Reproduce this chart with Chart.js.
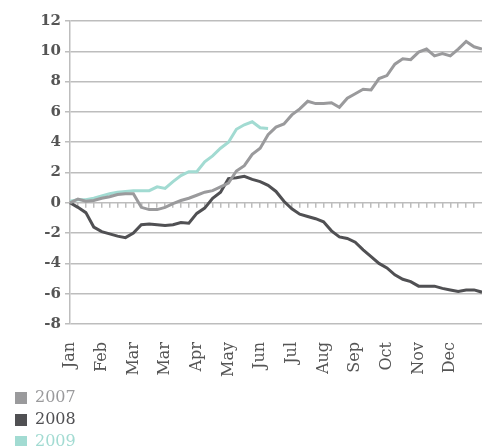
<!DOCTYPE html>
<html><head><meta charset="utf-8">
<script src="https://cdn.jsdelivr.net/npm/chart.js@4/dist/chart.umd.min.js"></script>
<style>html,body{margin:0;padding:0;background:#fff;}</style>
</head><body>
<canvas id="c" width="482" height="446"></canvas>
<script>
const weeks = [1,2,3,4,5,6,7,8,9,10,11,12,13,14,15,16,17,18,19,20,21,22,23,24,25,26,27,28,29,30,31,32,33,34,35,36,37,38,39,40,41,42,43,44,45,46,47,48,49,50,51,52,53];
const monthTicks = ["Jan","Feb","Mar","Mar","Apr","May","Jun","Jul","Aug","Sep","Oct","Nov","Dec"];
const seriesNames = ["2007","2008","2009"];
const values2007 = [0,0.25,0.1,0.15,0.3,0.4,0.55,0.6,0.6,-0.3,-0.45,-0.45,-0.3,-0.05,0.15,0.3,0.5,0.7,0.8,1.05,1.3,2.1,2.45,3.2,3.6,4.5,5.0,5.2,5.8,6.2,6.7,6.55,6.55,6.6,6.3,6.9,7.2,7.5,7.45,8.2,8.4,9.15,9.5,9.45,9.95,10.15,9.7,9.85,9.7,10.15,10.65,10.3,10.15];
const values2008 = [0,-0.3,-0.65,-1.6,-1.9,-2.05,-2.2,-2.3,-2.0,-1.45,-1.4,-1.45,-1.5,-1.45,-1.3,-1.35,-0.7,-0.35,0.3,0.7,1.6,1.65,1.75,1.55,1.4,1.15,0.75,0.1,-0.4,-0.75,-0.9,-1.05,-1.25,-1.85,-2.25,-2.35,-2.6,-3.1,-3.55,-4.0,-4.3,-4.75,-5.05,-5.2,-5.5,-5.5,-5.5,-5.65,-5.75,-5.85,-5.75,-5.75,-5.9];
const values2009 = [0.1,0.2,0.2,0.3,0.45,0.6,0.7,0.75,0.8,0.8,0.8,1.05,0.95,1.4,1.8,2.05,2.05,2.7,3.1,3.6,4.0,4.85,5.15,5.35,4.95,4.9];
const colors = ["#9a9a9c","#505053","#a2dbd2"];

const FONT = "'DejaVu Serif', serif";
const PAD = " ".repeat(70);
const gridColor = "#bdbdbd";
const ZERO_TICK = 5;

new Chart(document.getElementById('c'), {
  type: 'line',
  data: {
    labels: weeks,
    datasets: [values2007, values2008, values2009].map((d, i) => ({
      label: seriesNames[i], data: d, borderColor: colors[i], backgroundColor: colors[i],
      borderWidth: 3, pointRadius: 0, tension: 0, fill: false
    }))
  },
  options: {
    responsive: false, animation: false,
    layout: { padding: { left: 9, right: 0, top: 21, bottom: -14 } },
    plugins: {
      tooltip: { enabled: false },
      legend: {
        position: 'bottom', align: 'start',
        labels: {
          boxWidth: 12, boxHeight: 12, padding: 6, font: { family: FONT, size: 16 },
          generateLabels(chart) {
            return chart.data.datasets.map((ds, i) => ({
              text: ds.label + PAD, fillStyle: ds.borderColor, strokeStyle: ds.borderColor,
              lineWidth: 0, fontColor: ds.borderColor, hidden: false, datasetIndex: i
            }));
          }
        }
      }
    },
    scales: {
      y: {
        min: -8, max: 12,
        ticks: { stepSize: 2, color: '#555', padding: 4, font: { family: FONT, size: 15, weight: 'bold' } },
        grid: { color: gridColor, lineWidth: 1.5, tickLength: 5 },
        border: { color: gridColor, width: 1.5 },
        afterFit(s) { s.width = 61; }
      },
      x: {
        type: 'category', position: 'bottom',
        grid: { drawOnChartArea: true, drawTicks: false, color: gridColor, lineWidth: 1.5 },
        border: {
          display: false,
          dash: [ZERO_TICK, 3000],
          dashOffset: (ctx) => -(ctx.chart.scales.y.getPixelForValue(0) - ctx.chart.chartArea.top)
        },
        ticks: {
          autoSkip: false, maxRotation: 90, minRotation: 90, padding: 18,
          color: '#555', font: { family: FONT, size: 16 },
          callback: (v, i) => (i % 4 === 0 ? monthTicks[i / 4] : '')
        },
        afterFit(s) { s.height = 60; s.paddingRight = 0; s.paddingLeft = 0; }
      }
    }
  }
});
</script>
</body></html>
